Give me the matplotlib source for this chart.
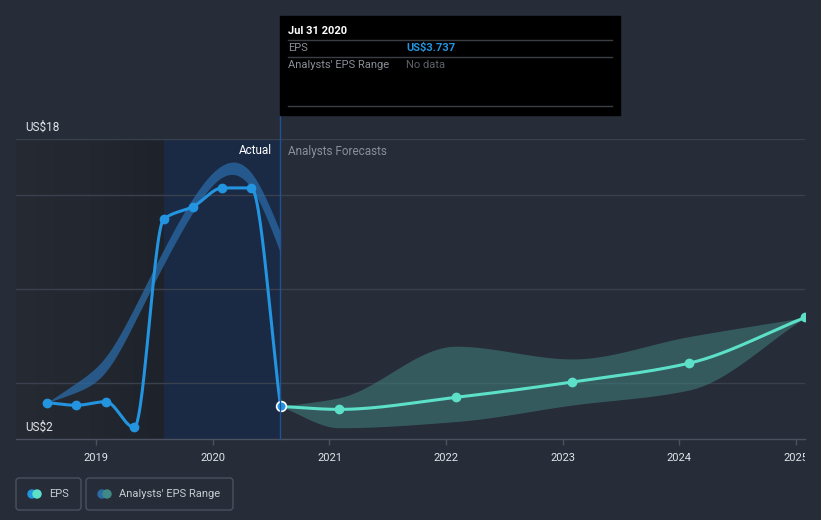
import matplotlib
matplotlib.use("Agg")
import matplotlib.pyplot as plt
import numpy as np
import pandas as pd
from matplotlib.patches import FancyBboxPatch, Circle
from matplotlib.colors import LinearSegmentedColormap
from matplotlib.transforms import Bbox, TransformedBbox

plt.rcParams['font.family'] = ['Roboto', 'DejaVu Sans']

# ---- data ----
actual_dates = ["2018-07-31", "2018-10-31", "2019-01-31", "2019-04-30", "2019-07-31",
                "2019-10-31", "2020-01-31", "2020-04-30", "2020-07-31"]
actual_eps = [3.94, 3.80, 3.99, 2.62, 13.72, 14.39, 15.39, 15.39, 3.737]
past_range_hi = [3.94, 5.0, 6.4, 9.0, 12.1, 14.85, 16.6, 16.2, 13.0]
past_range_lo = [3.94, 4.5, 5.6, 8.2, 11.3, 14.1, 15.97, 15.4, 11.9]

fc_dates = ["2020-07-31", "2021-01-31", "2022-01-31", "2023-01-31", "2024-01-31", "2025-01-31"]
fc_eps = [3.737, 3.58, 4.22, 5.04, 6.04, 8.49]
fc_hi = [3.737, 4.2, 6.95, 6.27, 7.46, 8.49]
fc_lo = [3.737, 2.6, 2.93, 3.81, 4.61, 8.49]

year_ticks = [2019, 2020, 2021, 2022, 2023, 2024, 2025]

BG = '#262c38'
BLUE = '#2394df'
MINT = '#5ce1c8'
GRID = '#3a414e'


def to_year(dates):
    d = pd.to_datetime(dates)
    start = pd.to_datetime(d.year.astype(str) + "-01-01")
    return np.array(d.year + (d - start).days / 365.25)


def monotone(x, y, n=30):
    """Monotone cubic curve through the points, for drawing."""
    x = np.asarray(x, float)
    y = np.asarray(y, float)
    h = np.diff(x)
    d = np.diff(y) / h
    m = np.zeros_like(y)
    m[0], m[-1] = d[0], d[-1]
    for k in range(1, len(y) - 1):
        if d[k - 1] * d[k] <= 0:
            m[k] = 0
        else:
            h0, h1 = h[k - 1], h[k]
            m[k] = 3 * (h0 + h1) / ((2 * h1 + h0) / d[k - 1] + (h1 + 2 * h0) / d[k])
    return hermite(x, y, m, n)


def natural(x, y, n=30):
    """Natural cubic spline through the points, for drawing."""
    x = np.asarray(x, float)
    y = np.asarray(y, float)
    N = len(x)
    h = np.diff(x)
    A = np.zeros((N, N))
    r = np.zeros(N)
    A[0, 0] = A[-1, -1] = 1
    for i in range(1, N - 1):
        A[i, i - 1] = h[i - 1]
        A[i, i] = 2 * (h[i - 1] + h[i])
        A[i, i + 1] = h[i]
        r[i] = 3 * ((y[i + 1] - y[i]) / h[i] - (y[i] - y[i - 1]) / h[i - 1])
    c = np.linalg.solve(A, r)
    m = np.zeros(N)
    for i in range(N - 1):
        b = (y[i + 1] - y[i]) / h[i] - h[i] * (2 * c[i] + c[i + 1]) / 3
        m[i] = b
    m[-1] = m[-2] + 2 * c[-2] * h[-1] + (c[-1] - c[-2]) * h[-1]
    return hermite(x, y, m, n)


def hermite(x, y, m, n):
    h = np.diff(x)
    xs, ys = [], []
    for k in range(len(h)):
        t = np.linspace(0, 1, n, endpoint=(k == len(h) - 1))
        h00 = 2 * t**3 - 3 * t**2 + 1
        h10 = t**3 - 2 * t**2 + t
        h01 = -2 * t**3 + 3 * t**2
        h11 = t**3 - t**2
        xs.append(x[k] + t * h[k])
        ys.append(h00 * y[k] + h10 * h[k] * m[k] + h01 * y[k + 1] + h11 * h[k] * m[k + 1])
    return np.concatenate(xs), np.concatenate(ys)


ax_x = to_year(actual_dates)
fx = to_year(fc_dates)

W, H = 821, 520
fig = plt.figure(figsize=(W / 100, H / 100), dpi=100, facecolor=BG)

# main plot area: x 16..805 px, y 139..439 px
ax = fig.add_axes([16 / W, (H - 439) / H, (805 - 16) / W, 300 / H])
ax.set_facecolor(BG)
x0 = 2019 + (16 - 96.3) / 116.6
x1 = 2019 + (805 - 96.3) / 116.6
ax.set_xlim(x0, x1)
ax.set_ylim(2, 18)

# shaded past (gradient) / actual regions
past_cmap = LinearSegmentedColormap.from_list("past", ['#252a33', '#23272f', '#1e222a'])
ax.imshow(np.linspace(0, 1, 100).reshape(1, -1), cmap=past_cmap, aspect='auto',
          extent=[x0, ax_x[4], 2, 18], zorder=0, interpolation='bilinear')
ax.axvspan(ax_x[4], ax_x[-1], color='#1a2a44', lw=0, zorder=0)
ax.set_xlim(x0, x1)
ax.set_ylim(2, 18)

for v in [5, 10, 15, 18]:
    ax.axhline(v, color=GRID, lw=1, zorder=1)

# past analyst range
bx, bhi = natural(ax_x, past_range_hi)
_, blo = natural(ax_x, past_range_lo)
ax.fill_between(bx, blo, bhi, color='#2a6aa6', alpha=0.75, lw=0, zorder=2)

# forecast range
fxs, fhi = monotone(fx, fc_hi)
_, flo = monotone(fx, fc_lo)
ax.fill_between(fxs, flo, fhi, color='#3f7a78', alpha=0.6, lw=0, zorder=2)

# actual EPS
sx, sy = monotone(ax_x, actual_eps)
ax.plot(sx, sy, color=BLUE, lw=2.2, zorder=4, solid_capstyle='round')
ax.plot(ax_x[:-1], actual_eps[:-1], 'o', color=BLUE, ms=6, zorder=5)

# forecast EPS
gx, gy = monotone(fx, fc_eps)
ax.plot(gx, gy, color=MINT, lw=2.2, zorder=4)
ax.plot(fx[1:], fc_eps[1:], 'o', color=MINT, ms=6, zorder=5)
ax.plot(ax_x[-1], actual_eps[-1], 'o', color=BLUE, ms=7, mec='white', mew=1.2, zorder=6)

for s in ['top', 'right', 'left']:
    ax.spines[s].set_visible(False)
ax.spines['bottom'].set_color('#4a5160')
ax.spines['bottom'].set_linewidth(1)
ax.set_yticks([])
ax.set_xticks(year_ticks)
ax.set_xticklabels([str(y) for y in year_ticks])
ax.tick_params(axis='x', colors='#4a5160', length=4, width=1, pad=6,
               labelcolor='#e2e5ea', labelsize=8)
clip = TransformedBbox(Bbox([[0, 0], [805 / W, 1]]), fig.transFigure)
for lab in ax.get_xticklabels():
    lab.set_clip_box(clip)
    lab.set_clip_on(True)

# overlay in pixel coordinates for annotations
ov = fig.add_axes([0, 0, 1, 1], facecolor='none')
ov.set_xlim(0, W)
ov.set_ylim(H, 0)
ov.axis('off')

ov.text(25, 127, "US$18", color='#e2e5ea', fontsize=8.5, va='center', ha='left')
ov.text(25, 427, "US$2", color='#e2e5ea', fontsize=8.5, va='center', ha='left')
ov.text(272, 151, "Actual", color='#ffffff', fontsize=8.5, va='center', ha='right')
ov.text(288, 151, "Analysts Forecasts", color='#8a909a', fontsize=8.5, va='center', ha='left')
ov.plot([280, 280], [115, 439], color='#1f5396', lw=1, zorder=3)

# tooltip
ov.add_patch(plt.Rectangle((280, 16), 340, 99, color='#000000', zorder=4))
ov.text(288, 31, "Jul 31 2020", color='white', fontsize=8, fontweight='bold', va='center', zorder=5)
for yy in [40, 57, 106]:
    ov.plot([288, 612], [yy, yy], color='#3b3f45', lw=1, zorder=5)
ov.text(288, 48, "EPS", color='#8a8f96', fontsize=8, va='center', zorder=5)
ov.text(406, 48, "US$3.737", color=BLUE, fontsize=8, fontweight='bold', va='center', zorder=5)
ov.text(288, 65, "Analysts' EPS Range", color='#8a8f96', fontsize=8, va='center', zorder=5)
ov.text(406, 65, "No data", color='#5d6168', fontsize=8, va='center', zorder=5)

# legend
for (lx, lw_, label, c1, c2) in [(16, 65, "EPS", BLUE, MINT),
                                 (86, 147, "Analysts' EPS Range", '#2a6aa6', '#3f8a86')]:
    ov.add_patch(FancyBboxPatch((lx, 478), lw_, 32, boxstyle="round,pad=0,rounding_size=3",
                                fc='none', ec='#4a5160', lw=1))
    ov.add_patch(Circle((lx + 16, 494), 4, color=c1))
    ov.add_patch(Circle((lx + 21, 494), 4, color=c2))
    ov.text(lx + 33, 494, label, color='#c8ccd2', fontsize=8, va='center')

fig.savefig("out.png", dpi=100, facecolor=BG)
